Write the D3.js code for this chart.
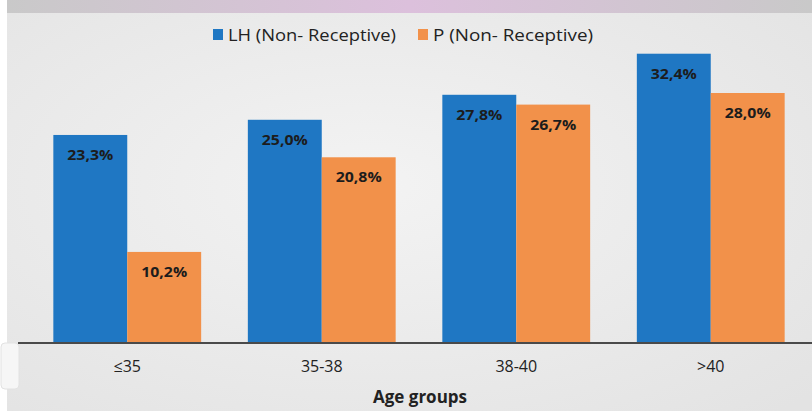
<!DOCTYPE html>
<html>
<head>
<meta charset="utf-8">
<title>Age groups</title>
<style>
  body { margin: 0; background: #fff; }
  svg { display: block; font-family: "Open Sans", "DejaVu Sans", sans-serif; }
</style>
</head>
<body>
<svg id="chart" width="812" height="411"></svg>
<script src="https://cdn.jsdelivr.net/npm/d3@7/dist/d3.min.js"></script>
<script>
// data
var groups = ["≤35", "35-38", "38-40", ">40"];
var seriesNames = ["LH (Non- Receptive)", "P (Non- Receptive)"];
var lhValues = [23.3, 25.0, 27.8, 32.4];
var pValues = [10.2, 20.8, 26.7, 28.0];
var colors = ["#1f77c3", "#f2914a"];

var W = 812, H = 411;
var svg = d3.select("#chart");

// background: photographed screen
var defs = svg.append("defs");
var bg = defs.append("radialGradient").attr("id", "bg").attr("cx", "45%").attr("cy", "45%").attr("r", "75%");
bg.append("stop").attr("offset", "0%").attr("stop-color", "#f3f3f3");
bg.append("stop").attr("offset", "100%").attr("stop-color", "#e3e3e3");
var topGrad = defs.append("linearGradient").attr("id", "topband");
topGrad.append("stop").attr("offset", "0%").attr("stop-color", "#c9c9c9");
topGrad.append("stop").attr("offset", "50%").attr("stop-color", "#dcc0dc");
topGrad.append("stop").attr("offset", "100%").attr("stop-color", "#c9c9c9");

svg.append("rect").attr("x", 7).attr("y", 0).attr("width", W - 7).attr("height", H).attr("fill", "url(#bg)");
svg.append("rect").attr("x", 7).attr("y", 0).attr("width", W - 7).attr("height", 13).attr("fill", "url(#topband)");
svg.append("rect").attr("x", 1).attr("y", 343).attr("width", 18).attr("height", 46).attr("rx", 4)
  .attr("fill", "#f6f6f6").attr("stroke", "#e2e2e2");

// scales
var x0 = d3.scaleBand().domain(groups).range([30, 808]).paddingInner(0.24).paddingOuter(0.12);
var x1 = d3.scaleBand().domain([0, 1]).range([0, x0.bandwidth()]);
var y = d3.scaleLinear().domain([0, 35]).range([343, 30.5]);

var rows = groups.map(function (g, i) { return { group: g, vals: [lhValues[i], pValues[i]] }; });

var g = svg.selectAll("g.grp").data(rows).enter().append("g")
  .attr("class", "grp")
  .attr("transform", function (d) { return "translate(" + x0(d.group) + ",0)"; });

var bars = g.selectAll("g.bar").data(function (d) { return d.vals.map(function (v, k) { return { k: k, v: v }; }); })
  .enter().append("g").attr("class", "bar");

bars.append("rect")
  .attr("x", function (d) { return x1(d.k); })
  .attr("y", function (d) { return y(d.v); })
  .attr("width", x1.bandwidth())
  .attr("height", function (d) { return y(0) - y(d.v); })
  .attr("fill", function (d) { return colors[d.k]; });

bars.append("text")
  .attr("x", function (d) { return x1(d.k) + x1.bandwidth() / 2; })
  .attr("y", function (d) { return y(d.v) + 25; })
  .attr("text-anchor", "middle")
  .attr("font-size", 15)
  .attr("font-weight", "bold")
  .attr("fill", "#1c1c1c")
  .attr("textLength", 46).attr("lengthAdjust", "spacingAndGlyphs")
  .text(function (d) { return d.v.toFixed(1).replace(".", ",") + "%"; });

// x axis
var xAxis = svg.append("g").attr("transform", "translate(0,343)")
  .call(d3.axisBottom(x0).tickSize(0).tickPadding(18));
xAxis.select(".domain").remove();
xAxis.selectAll("text").attr("font-size", 16).attr("fill", "#222").attr("font-family", "\"Open Sans\", sans-serif");
svg.append("line").attr("x1", 18).attr("x2", 812).attr("y1", 343).attr("y2", 343)
  .attr("stroke", "#4a4a4a").attr("stroke-width", 2);

svg.append("text").attr("x", 420).attr("y", 403).attr("text-anchor", "middle")
  .attr("font-size", 17).attr("font-weight", "bold").attr("fill", "#222").text("Age groups");

// legend
var legendX = [213, 418];
var legendLen = [168, 160];
var leg = svg.selectAll("g.leg").data(seriesNames).enter().append("g")
  .attr("class", "leg")
  .attr("transform", function (d, i) { return "translate(" + legendX[i] + ",29)"; });
leg.append("rect").attr("width", 10).attr("height", 11)
  .attr("fill", function (d, i) { return colors[i]; });
leg.append("text").attr("x", 15).attr("y", 12)
  .attr("font-size", 17).attr("fill", "#222")
  .attr("textLength", function (d, i) { return legendLen[i]; })
  .attr("lengthAdjust", "spacingAndGlyphs")
  .text(function (d) { return d; });
</script>
</body>
</html>
